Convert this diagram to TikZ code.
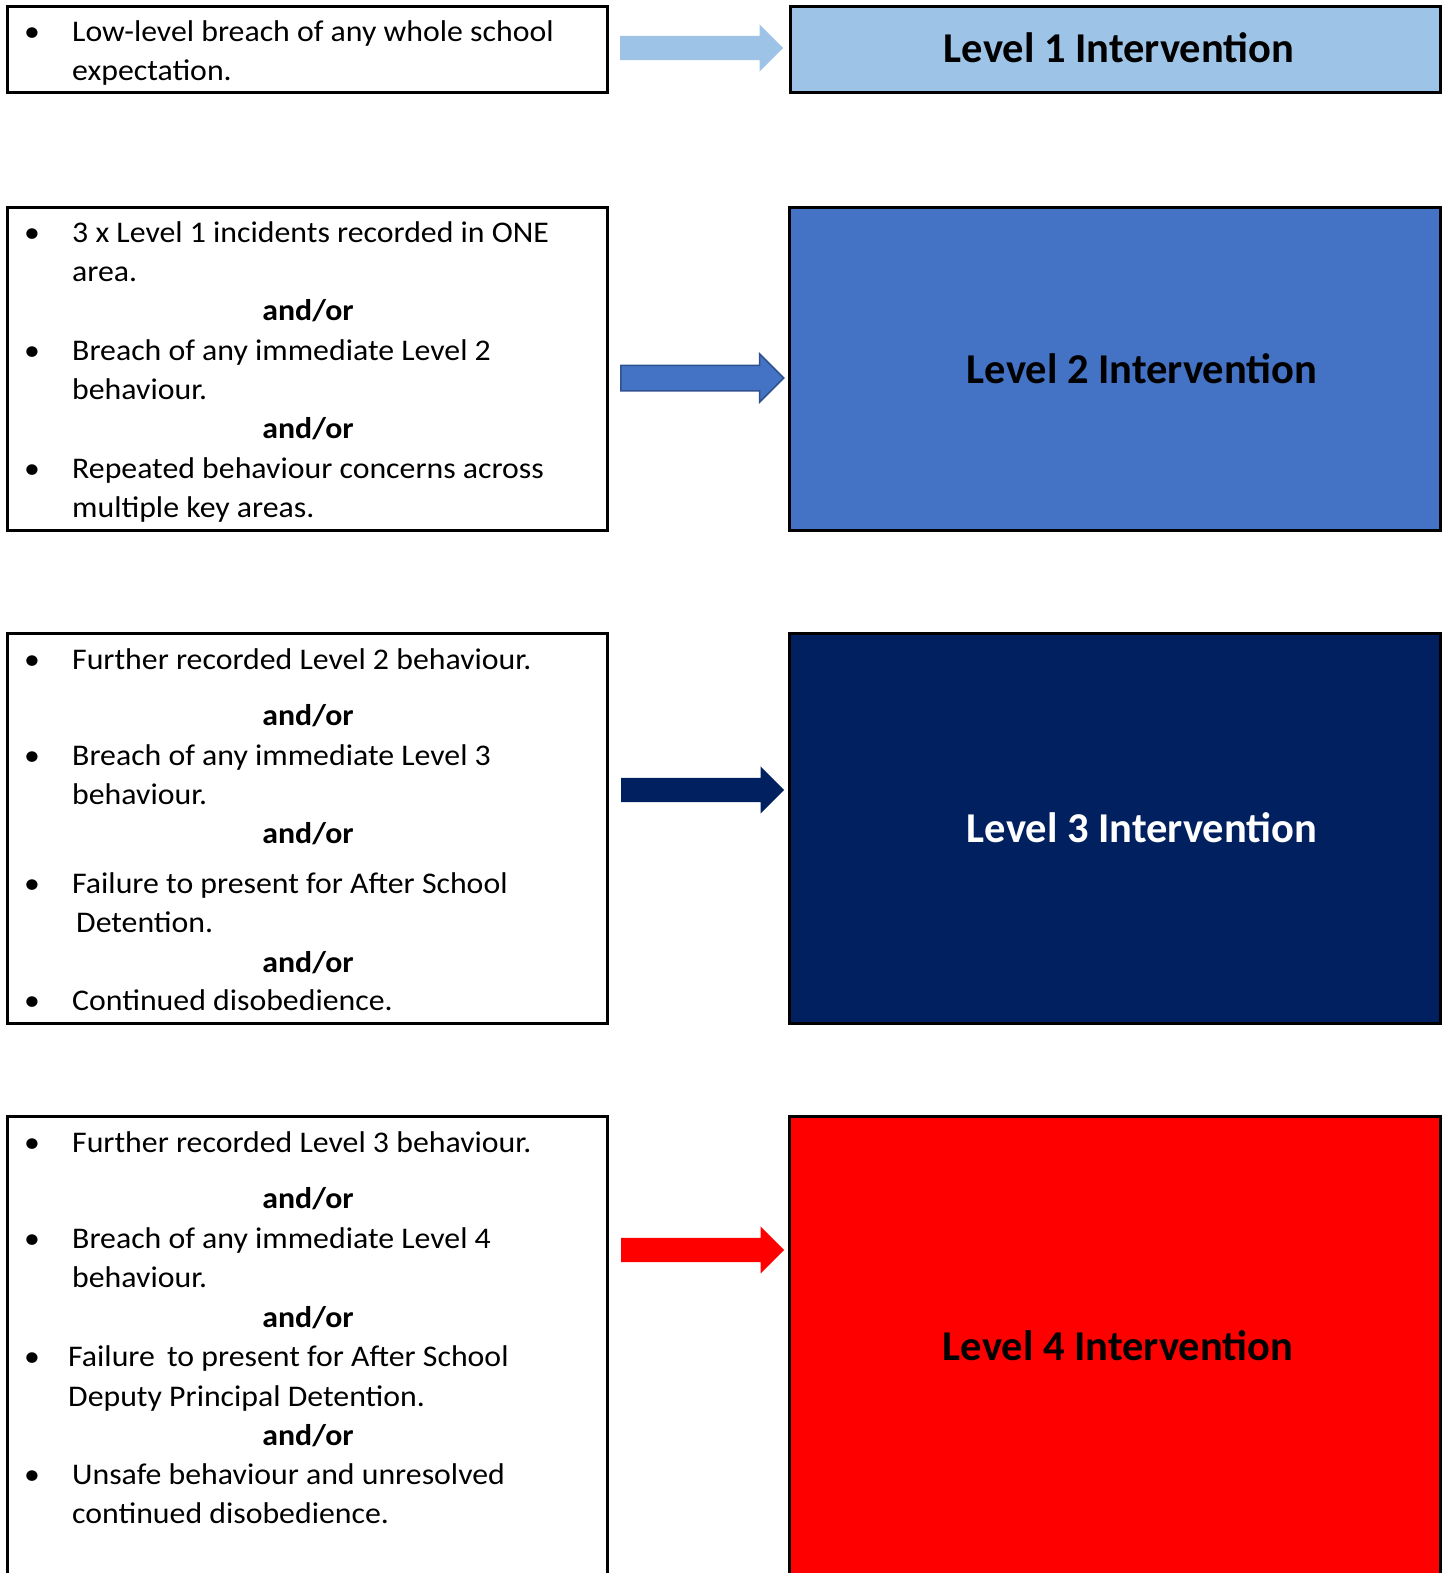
\documentclass[tikz,border=0pt]{standalone}
\usepackage{fontspec}
\setmainfont{Carlito}
\newfontfamily\bodyfont[FakeStretch=1.06]{Carlito}
\usetikzlibrary{shapes.arrows}
\definecolor{lvone}{HTML}{9DC3E6}
\definecolor{lvtwo}{HTML}{4472C4}
\definecolor{lvtwoline}{HTML}{2F528F}
\definecolor{lvthree}{HTML}{002060}
\definecolor{lvfour}{HTML}{FF0000}

\begin{document}
\begin{tikzpicture}[x=1pt,y=-1pt,
  frame/.style={draw=black,line width=3pt},
  txt/.style={anchor=base west,inner sep=0pt,font=\bodyfont\fontsize{30}{36}\selectfont},
  blt/.style={anchor=base,inner sep=0pt,font=\bodyfont\fontsize{30}{36}\selectfont},
  andor/.style={anchor=base,inner sep=0pt,font=\bodyfont\fontsize{30}{36}\selectfont\bfseries},
  title/.style={anchor=base,inner sep=0pt,font=\fontsize{42.5}{50}\selectfont\bfseries},
  blockarrow/.style={single arrow,draw=none,minimum height=163pt,minimum width=47pt,
    inner sep=12pt,single arrow head extend=11.5pt,shape border rotate=0,anchor=tail}]
  \clip (0,0) rectangle (1452,1573);

  % level 1
  \draw[frame] (7,7) rectangle (607,93);
  \draw[frame,fill=lvone] (790,7) rectangle (1440,93);
  \node[blt] (b1a) at (32,42) {•};
  \node[txt] (t1a) at (72,42) {Low-level breach of any whole school};
  \node[txt] (t1b) at (72,81) {expectation.};
  \node[blockarrow,fill=lvone] (a1) at (620,48) {};
  \node[title] (l1) at (1119,63) {Level 1 Intervention};

  % level 2
  \draw[frame] (7,207) rectangle (607,530);
  \draw[frame,fill=lvtwo] (789,207) rectangle (1440,530);
  \node[blt] (b2a) at (32,242) {•};
  \node[txt] (t2a) at (72,242) {3 x Level 1 incidents recorded in ONE};
  \node[txt] (t2b) at (72,281) {area.};
  \node[andor] (o2a) at (308,320) {and/or};
  \node[blt] (b2b) at (32,360) {•};
  \node[txt] (t2c) at (72,360) {Breach of any immediate Level 2};
  \node[txt] (t2d) at (72,399) {behaviour.};
  \node[andor] (o2b) at (308,438) {and/or};
  \node[blt] (b2c) at (32,478) {•};
  \node[txt] (t2e) at (72,478) {Repeated behaviour concerns across};
  \node[txt] (t2f) at (72,517) {multiple key areas.};
  \node[blockarrow,fill=lvtwo,draw=lvtwoline,line width=1.5pt] (a2) at (620,378) {};
  \node[title] (l2) at (1142,383) {Level 2 Intervention};

  % level 3
  \draw[frame] (7,633) rectangle (607,1023);
  \draw[frame,fill=lvthree] (789,633) rectangle (1440,1023);
  \node[blt] (b3a) at (32,669) {•};
  \node[txt] (t3a) at (72,669) {Further recorded Level 2 behaviour.};
  \node[andor] (o3a) at (308,725) {and/or};
  \node[blt] (b3b) at (32,765) {•};
  \node[txt] (t3b) at (72,765) {Breach of any immediate Level 3};
  \node[txt] (t3c) at (72,804) {behaviour.};
  \node[andor] (o3b) at (308,843) {and/or};
  \node[blt] (b3c) at (32,893) {•};
  \node[txt] (t3d) at (72,893) {Failure to present for After School};
  \node[txt] (t3e) at (76,932) {Detention.};
  \node[andor] (o3c) at (308,972) {and/or};
  \node[blt] (b3d) at (32,1010) {•};
  \node[txt] (t3f) at (72,1010) {Continued disobedience.};
  \node[blockarrow,fill=lvthree] (a3) at (621,790) {};
  \node[title,text=white] (l3) at (1142,842) {Level 3 Intervention};

  % level 4
  \draw[frame] (7,1116) rectangle (607,1600);
  \draw[frame,fill=lvfour] (789,1116) rectangle (1440,1600);
  \node[blt] (b4a) at (32,1152) {•};
  \node[txt] (t4a) at (72,1152) {Further recorded Level 3 behaviour.};
  \node[andor] (o4a) at (308,1208) {and/or};
  \node[blt] (b4b) at (32,1248) {•};
  \node[txt] (t4b) at (72,1248) {Breach of any immediate Level 4};
  \node[txt] (t4c) at (72,1287) {behaviour.};
  \node[andor] (o4b) at (308,1327) {and/or};
  \node[blt] (b4c) at (32,1366) {•};
  \node[txt] (t4d) at (68,1366) {Failure\,\ to present for After School};
  \node[txt] (t4e) at (68,1406) {Deputy Principal Detention.};
  \node[andor] (o4c) at (308,1445) {and/or};
  \node[blt] (b4d) at (32,1484) {•};
  \node[txt] (t4f) at (72,1484) {Unsafe behaviour and unresolved};
  \node[txt] (t4g) at (72,1523) {continued disobedience.};
  \node[blockarrow,fill=lvfour] (a4) at (621,1250) {};
  \node[title] (l4) at (1118,1360) {Level 4 Intervention};
\end{tikzpicture}
\end{document}
